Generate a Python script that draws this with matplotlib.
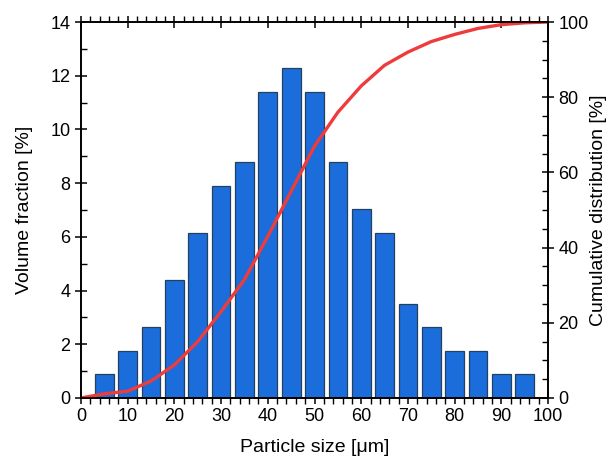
import matplotlib
matplotlib.use("Agg")
import matplotlib.pyplot as plt
from matplotlib.ticker import MultipleLocator

plt.rcParams['font.family'] = ['Liberation Sans', 'DejaVu Sans']

# bar data: particle size bins [um] and volume fraction [%]
sizes = [5, 10, 15, 20, 25, 30, 35, 40, 45, 50, 55, 60, 65, 70, 75, 80, 85, 90, 95]
fraction = [0.88, 1.75, 2.63, 4.39, 6.14, 7.89, 8.77, 11.40, 12.28, 11.40,
            8.77, 7.02, 6.14, 3.51, 2.63, 1.75, 1.75, 0.88, 0.88]

# cumulative distribution curve [%]
cum_x = [0, 5, 10, 15, 20, 25, 30, 35, 40, 45, 50, 55, 60, 65, 70, 75, 80, 85, 90, 95, 100]
cum_y = [0, 1.1, 1.8, 4.5, 8.8, 15.0, 23.0, 31.5, 43.0, 55.0, 67.0, 76.0, 83.0,
         88.5, 92.0, 94.8, 96.7, 98.3, 99.3, 99.8, 100]

fig = plt.figure(figsize=(6.06, 4.59), dpi=100)
ax = fig.add_axes([0.1337, 0.133, 0.7706, 0.819])

ax.bar(sizes, fraction, width=4, color='#1a6ddb', edgecolor='#24405e', linewidth=0.9, zorder=2)
ax.set_xlim(0, 100)
ax.set_ylim(0, 14)
ax.xaxis.set_major_locator(MultipleLocator(10))
ax.xaxis.set_minor_locator(MultipleLocator(2))
ax.yaxis.set_major_locator(MultipleLocator(2))
ax.yaxis.set_minor_locator(MultipleLocator(1))
ax.set_xlabel('Particle size [μm]', fontsize=14, labelpad=10)
ax.set_ylabel('Volume fraction [%]', fontsize=14)
ax.yaxis.set_label_coords(-0.102, 0.5)

ax2 = ax.twinx()
ax2.plot(cum_x, cum_y, color='#ee3b3b', linewidth=2.4, solid_capstyle='butt')
ax2.set_ylim(0, 100)
ax2.yaxis.set_major_locator(MultipleLocator(20))
ax2.yaxis.set_minor_locator(MultipleLocator(5))
ax2.set_ylabel('Cumulative distribution [%]', fontsize=14)
ax2.yaxis.set_label_coords(1.09, 0.5)

for a in (ax, ax2):
    for s in a.spines.values():
        s.set_linewidth(1.2)

ax.tick_params(axis='x', which='major', direction='inout', length=8, width=1.1,
               labelsize=13, top=True)
ax.tick_params(axis='x', which='minor', direction='out', length=4, width=1.0, top=True)
ax.tick_params(axis='y', which='major', direction='inout', length=8, width=1.1,
               labelsize=13, right=False)
ax.tick_params(axis='y', which='minor', direction='in', length=4, width=1.0, right=False)
ax2.tick_params(axis='y', which='major', direction='inout', length=8, width=1.1, labelsize=13)
ax2.tick_params(axis='y', which='minor', direction='in', length=4, width=1.0)

fig.savefig('out.png', dpi=100)
